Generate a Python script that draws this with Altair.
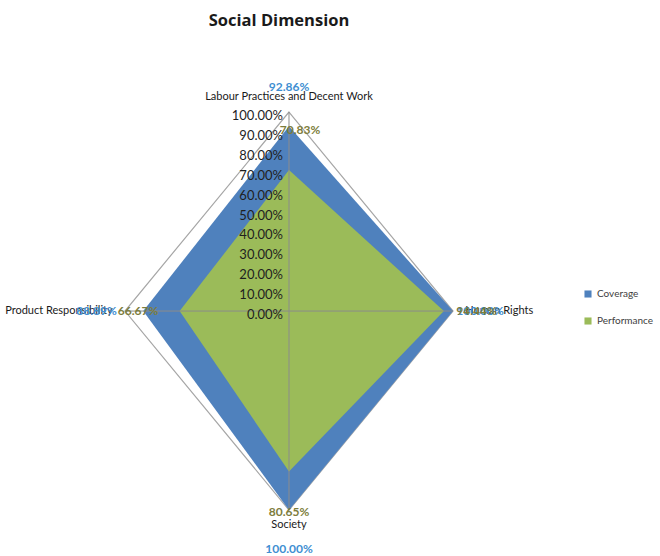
import altair as alt
import pandas as pd

# ---- data ----
categories = ["Labour Practices and Decent Work", "Human Rights", "Society", "Product Responsibility"]
coverage = [92.86, 100.00, 100.00, 88.89]
performance = [70.83, 94.44, 80.65, 66.67]
tick_values = [0, 10, 20, 30, 40, 50, 60, 70, 80, 90, 100]
series_names = ["Coverage", "Performance"]

# ---- styles / layout ----
fill_colors = ["#4f81bd", "#9bbb59"]
label_colors = {"Coverage": "#3f8fd2", "Performance": "#7d7d3c"}
FONT = "Lato"
# label radius (in units of 100%), extra x shift (units) and alignment per category
label_layout = {
    "Coverage": {"r": [1.125, 1.02, 1.195, 1.05], "sx": [0, 0, 0, 0],
                 "align": ["center", "left", "center", "right"]},
    "Performance": {"r": [0.91, 1.02, 1.01, 0.92], "sx": [0.067, 0, 0, 0],
                    "align": ["center", "left", "center", "center"]},
}
cat_label_r = 1.075
cat_align = ["center", "left", "center", "right"]

X = alt.Scale(domain=[-1.762, 2.262], nice=False, zero=False)
Y = alt.Scale(domain=[-1.231, 1.563], nice=False, zero=False)


def xy(chart, rexpr, sx="0"):
    return (chart.transform_calculate(ang="datum.idx * PI / 2")
            .transform_calculate(r=rexpr)
            .transform_calculate(x=f"datum.r * sin(datum.ang) + ({sx})",
                                 y="datum.r * cos(datum.ang)"))


rows = []
for s, vals in zip(series_names, [coverage, performance]):
    for i, (c, v) in enumerate(zip(categories, vals)):
        rows.append({"series": s, "cat": c, "idx": i, "value": v})
poly = pd.DataFrame(rows)
axes_df = pd.DataFrame({"cat": categories, "idx": list(range(len(categories)))})
ticks_df = pd.DataFrame({"t": tick_values})

color = alt.Color(
    "series:N",
    scale=alt.Scale(domain=series_names, range=fill_colors),
    legend=alt.Legend(title=None, orient="none", legendX=583, legendY=289,
                      symbolType="square", symbolSize=50, symbolStrokeWidth=0,
                      labelFont=FONT, labelFontSize=10, labelColor="#404040",
                      rowPadding=17),
)

# outer ring (100%)
ring = xy(alt.Chart(axes_df), "1").mark_line(
    interpolate="linear-closed", color="#a6a6a6", strokeWidth=1.2
).encode(x=alt.X("x:Q", scale=X, axis=None), y=alt.Y("y:Q", scale=Y, axis=None),
         order=alt.Order("idx:Q"))

polys = []
for s in series_names:
    p = xy(alt.Chart(poly).transform_filter(alt.datum.series == s), "datum.value / 100").mark_line(
        interpolate="linear-closed", filled=True
    ).encode(x=alt.X("x:Q", scale=X, axis=None), y=alt.Y("y:Q", scale=Y, axis=None),
             order=alt.Order("idx:Q"), color=color)
    polys.append(p)

spokes = xy(alt.Chart(axes_df), "1").transform_calculate(x0="0", y0="0").mark_rule(
    color="#8c8c8c", strokeWidth=1
).encode(x=alt.X("x0:Q", scale=X, axis=None), y=alt.Y("y0:Q", scale=Y, axis=None),
         x2="x:Q", y2="y:Q")

tick_labels = alt.Chart(ticks_df).transform_calculate(
    x="0", y="datum.t / 100", label="format(datum.t, '.2f') + '%'"
).mark_text(align="right", baseline="middle", dx=-6, dy=4, font=FONT, fontSize=13,
            color="#1f1f1f").encode(
    x=alt.X("x:Q", scale=X, axis=None), y=alt.Y("y:Q", scale=Y, axis=None), text="label:N")

layers = [ring] + polys + [spokes, tick_labels]

# category labels
for al in ["center", "left", "right"]:
    idxs = [i for i, a in enumerate(cat_align) if a == al]
    sub = axes_df[axes_df.idx.isin(idxs)]
    layers.append(
        xy(alt.Chart(sub), str(cat_label_r)).mark_text(
            align=al, baseline="middle", font=FONT, fontSize=11, color="#1a1a1a"
        ).encode(x=alt.X("x:Q", scale=X, axis=None), y=alt.Y("y:Q", scale=Y, axis=None),
                 text="cat:N"))

# data labels
lab_rows = []
for s, vals in zip(series_names, [coverage, performance]):
    lay = label_layout[s]
    for i, v in enumerate(vals):
        lab_rows.append({"series": s, "idx": i, "text": f"{v:.2f}%", "lr": lay["r"][i],
                         "sx": lay["sx"][i], "align": lay["align"][i],
                         "tcolor": label_colors[s]})
lab_df = pd.DataFrame(lab_rows)
for al in ["center", "left", "right"]:
    sub = lab_df[lab_df["align"] == al]
    if len(sub) == 0:
        continue
    layers.append(
        xy(alt.Chart(sub), "datum.lr", "datum.sx").mark_text(
            align=al, baseline="middle", font=FONT, fontSize=12, fontWeight="bold"
        ).encode(x=alt.X("x:Q", scale=X, axis=None), y=alt.Y("y:Q", scale=Y, axis=None),
                 text="text:N", color=alt.Color("tcolor:N", scale=None)))

title = alt.Chart(pd.DataFrame({"t": ["Social Dimension"]})).mark_text(
    font="Open Sans", fontSize=16.5, fontWeight="bold", color="#1a1a1a", baseline="middle"
).encode(text="t:N", x=alt.value(279), y=alt.value(21))
layers.append(title)

chart = alt.layer(*layers).properties(
    width=660, height=556, padding=0, autosize="none", background="white"
).configure_view(stroke=None)

chart.save("out.html", embed_options={"renderer": "svg", "actions": False})
